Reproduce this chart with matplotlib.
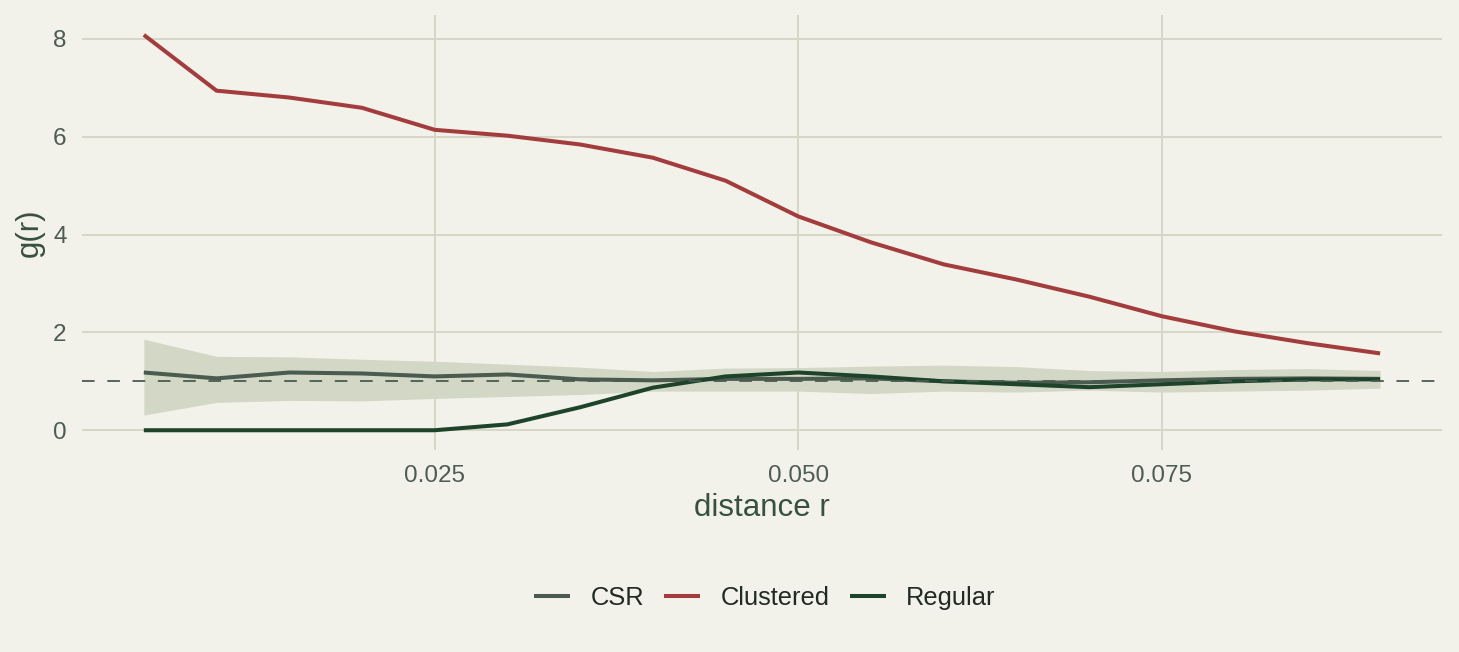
import numpy as np
import matplotlib.pyplot as plt

# distances r
r = [0.005, 0.010, 0.015, 0.020, 0.025, 0.030, 0.035, 0.040, 0.045,
     0.050, 0.055, 0.060, 0.065, 0.070, 0.075, 0.080, 0.085, 0.090]

# g(r)
g_csr = [1.18, 1.06, 1.18, 1.16, 1.10, 1.14, 1.04, 1.02, 1.05,
         1.05, 1.06, 1.00, 0.97, 0.98, 1.02, 1.05, 1.06, 1.05]
g_clustered = [8.08, 6.94, 6.80, 6.59, 6.14, 6.02, 5.84, 5.57, 5.10,
               4.37, 3.84, 3.39, 3.08, 2.73, 2.33, 2.02, 1.78, 1.57]
g_regular = [0.0, 0.0, 0.0, 0.0, 0.0, 0.12, 0.47, 0.87, 1.10,
             1.18, 1.10, 1.00, 0.94, 0.88, 0.94, 1.00, 1.04, 1.04]

# CSR envelope
env_lo = [0.31, 0.57, 0.61, 0.60, 0.65, 0.69, 0.73, 0.80, 0.80,
          0.80, 0.75, 0.80, 0.78, 0.82, 0.78, 0.80, 0.82, 0.86]
env_hi = [1.86, 1.51, 1.50, 1.45, 1.41, 1.35, 1.29, 1.20, 1.27,
          1.28, 1.31, 1.33, 1.30, 1.22, 1.20, 1.24, 1.26, 1.22]

bg = "#f2f1ea"
grid_col = "#d5d5c5"
col_csr = "#4b5b50"
col_clu = "#a33d3d"
col_reg = "#1e432b"
band_col = "#d3d7c6"

plt.rcParams["font.family"] = ["Liberation Sans", "DejaVu Sans"]

fig = plt.figure(figsize=(14.59, 6.52), dpi=100, facecolor=bg)
ax = fig.add_axes([0.0562, 0.3098, 0.9321, 0.667])
ax.set_facecolor(bg)

ax.fill_between(r, env_lo, env_hi, color=band_col, lw=0, zorder=2)
ax.plot(r, g_csr, color=col_csr, lw=2.9, label="CSR", zorder=3, solid_capstyle="butt")
ax.plot(r, g_clustered, color=col_clu, lw=2.9, label="Clustered", zorder=3, solid_capstyle="butt")
ax.plot(r, g_regular, color=col_reg, lw=2.9, label="Regular", zorder=3, solid_capstyle="butt")
ax.axhline(1.0, color=col_csr, lw=1.3, ls=(0, (7, 7)), zorder=4)

xr = max(r) - min(r)
ax.set_xlim(min(r) - 0.05 * xr, max(r) + 0.05 * xr)
ymax = max(g_clustered)
ax.set_ylim(-0.05 * ymax, ymax * 1.05)

ax.set_xticks([0.025, 0.050, 0.075])
ax.set_xticklabels(["0.025", "0.050", "0.075"])
ax.set_yticks([0, 2, 4, 6, 8])

ax.grid(True, color=grid_col, lw=1.3, zorder=0)
ax.set_axisbelow(True)
for s in ax.spines.values():
    s.set_visible(False)
ax.tick_params(length=0, labelsize=17.5, colors="#4d5d52")
ax.tick_params(axis="x", pad=11)
ax.tick_params(axis="y", pad=11)

ax.set_xlabel("distance r", fontsize=22.5, color="#38503e", labelpad=4)
ax.set_ylabel("g(r)", fontsize=22.5, color="#38503e", labelpad=6)

leg = fig.legend(loc="center", bbox_to_anchor=(765 / 1459, 1 - 598 / 652), ncol=3, frameon=False,
                 fontsize=18.4, handlelength=1.4, handletextpad=0.8, columnspacing=0.8)
for t in leg.get_texts():
    t.set_color("#222a24")

fig.savefig("out.png", dpi=100, facecolor=bg)
